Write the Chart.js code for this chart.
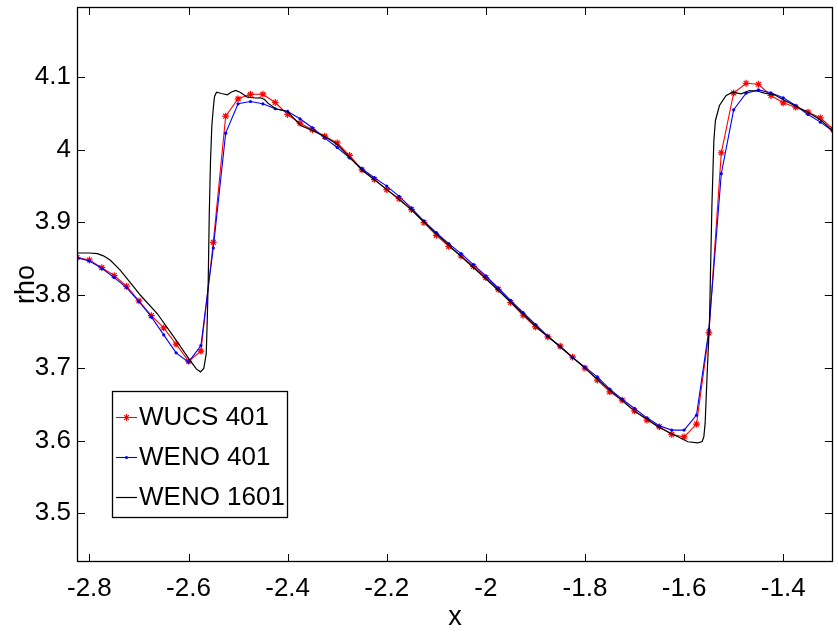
<!DOCTYPE html>
<html>
<head>
<meta charset="utf-8">
<script src="https://cdn.jsdelivr.net/npm/chart.js@4.4.1/dist/chart.umd.min.js"></script>
<style>
html,body{margin:0;padding:0;background:#fff;}
#wrap{width:838px;height:635px;position:relative;}
</style>
</head>
<body>
<div id="wrap"><canvas id="c" width="838" height="635"></canvas></div>
<script>
// ---- data ----
const seriesNames = ['WUCS 401', 'WENO 401', 'WENO 1601'];

const xGrid = [-2.825, -2.8, -2.775, -2.75, -2.725, -2.7, -2.675, -2.65, -2.625, -2.6,
  -2.575, -2.55, -2.525, -2.5, -2.475, -2.45, -2.425, -2.4, -2.375, -2.35,
  -2.325, -2.3, -2.275, -2.25, -2.225, -2.2, -2.175, -2.15, -2.125, -2.1,
  -2.075, -2.05, -2.025, -2.0, -1.975, -1.95, -1.925, -1.9, -1.875, -1.85,
  -1.825, -1.8, -1.775, -1.75, -1.725, -1.7, -1.675, -1.65, -1.625, -1.6,
  -1.575, -1.55, -1.525, -1.5, -1.475, -1.45, -1.425, -1.4, -1.375, -1.35,
  -1.325, -1.3];

const wucs401 = [3.8515, 3.8482, 3.8377, 3.8268, 3.8121, 3.7919, 3.7718, 3.7548, 3.7324, 3.7091,
  3.7228, 3.8725, 4.0459, 4.0698, 4.0761, 4.0761, 4.0647, 4.0482, 4.0363, 4.0272,
  4.0184, 4.0091, 3.9919, 3.9720, 3.9590, 3.9448, 3.9325, 3.9174, 3.8995, 3.8821,
  3.8670, 3.8537, 3.8395, 3.8240, 3.8079, 3.7897, 3.7722, 3.7562, 3.7425, 3.7297,
  3.7146, 3.6995, 3.6830, 3.6669, 3.6555, 3.6408, 3.6281, 3.6189, 3.6084, 3.6051,
  3.6226, 3.7479, 3.9956, 4.0778, 4.0912, 4.0898, 4.0743, 4.0643, 4.0583, 4.0514,
  4.0437, 4.0286];

const weno401 = [3.8515, 3.8468, 3.8368, 3.8240, 3.8103, 3.7911, 3.7699, 3.7452, 3.7205, 3.7077,
  3.7306, 3.8647, 4.0226, 4.0629, 4.0661, 4.0629, 4.0561, 4.0524, 4.0423, 4.0300,
  4.0157, 4.0029, 3.9885, 3.9737, 3.9613, 3.9498, 3.9356, 3.9196, 3.9017, 3.8858,
  3.8707, 3.8570, 3.8419, 3.8262, 3.8097, 3.7928, 3.7760, 3.7595, 3.7434, 3.7287,
  3.7139, 3.7009, 3.6875, 3.6707, 3.6569, 3.6441, 3.6312, 3.6203, 3.6143, 3.6143,
  3.6349, 3.7526, 3.9668, 4.0547, 4.0775, 4.0821, 4.0780, 4.0712, 4.0606, 4.0482,
  4.0377, 4.0253];

const weno1601X = [-2.825, -2.800, -2.7838, -2.7717, -2.7576, -2.7374, -2.7105, -2.6970, -2.6632, -2.6297,
  -2.5974, -2.5838, -2.5758, -2.5691, -2.5642, -2.5622, -2.5602, -2.5582, -2.5556, -2.5529,
  -2.5501, -2.5475, -2.5434, -2.5333, -2.5218, -2.5131, -2.5050, -2.4950, -2.4814, -2.4646,
  -2.4545, -2.4465, -2.4398, -2.4242, -2.4006, -2.3737, -2.3469, -2.3252, -2.2996, -2.2747,
  -2.2491, -2.2000, -2.1501, -2.0990, -2.0505, -2.0000, -1.9495, -1.8996, -1.8499, -1.8000,
  -1.7501, -1.7239, -1.7004, -1.6747, -1.6531, -1.6196, -1.5925, -1.5723, -1.5636, -1.5602,
  -1.5576, -1.5535, -1.5489, -1.5440, -1.5400, -1.5368, -1.5287, -1.5152, -1.5017, -1.4849,
  -1.4681, -1.4511, -1.4378, -1.4176, -1.3974, -1.3772, -1.3501, -1.3231, -1.3000];

const weno1601Y = [3.8578, 3.8578, 3.8570, 3.8539, 3.8478, 3.8340, 3.8111, 3.7997, 3.7746, 3.7425,
  3.7105, 3.6981, 3.6944, 3.6991, 3.7197, 3.7654, 3.8203, 3.9082, 3.9851, 4.0331,
  4.0565, 4.0730, 4.0789, 4.0771, 4.0753, 4.0791, 4.0812, 4.0784, 4.0720, 4.0709,
  4.0712, 4.0688, 4.0638, 4.0561, 4.0524, 4.0331, 4.0253, 4.0180, 4.0070, 3.9892,
  3.9713, 3.9453, 3.9171, 3.8835, 3.8533, 3.8224, 3.7901, 3.7571, 3.7290, 3.6995,
  3.6693, 3.6542, 3.6404, 3.6295, 3.6189, 3.6075, 3.5983, 3.5969, 3.5986, 3.6051,
  3.6235, 3.6922, 3.7609, 3.9210, 4.0125, 4.0400, 4.0606, 4.0743, 4.0789, 4.0767,
  4.0812, 4.0802, 4.0775, 4.0753, 4.0675, 4.0606, 4.0514, 4.0400, 4.0253];

const xTickValues = [-2.8, -2.6, -2.4, -2.2, -2, -1.8, -1.6, -1.4];
const xTickLabels = ['-2.8', '-2.6', '-2.4', '-2.2', '-2', '-1.8', '-1.6', '-1.4'];
const yTickValues = [3.5, 3.6, 3.7, 3.8, 3.9, 4, 4.1];
const yTickLabels = ['3.5', '3.6', '3.7', '3.8', '3.9', '4', '4.1'];
const xRange = [-2.825, -1.3];
const yRange = [3.433, 4.196];
const axisTitles = ['x', 'rho'];

// ---- rendering ----
const FONT = '"Liberation Sans", Arial, Helvetica, sans-serif';
Chart.defaults.color = '#000';
Chart.defaults.font.family = FONT;

const matlabBox = {
  id: 'matlabBox',
  afterDatasetsDraw(chart, args, opts) {
    const {ctx, chartArea: a, scales} = chart;
    const L = opts.tickLength;
    ctx.save();
    ctx.strokeStyle = '#000';
    ctx.lineWidth = 1;
    ctx.beginPath();
    scales.x.ticks.forEach(t => {
      const p = Math.round(scales.x.getPixelForValue(t.value)) + 0.5;
      ctx.moveTo(p, a.bottom); ctx.lineTo(p, a.bottom - L);
      ctx.moveTo(p, a.top); ctx.lineTo(p, a.top + L);
    });
    scales.y.ticks.forEach(t => {
      const p = Math.round(scales.y.getPixelForValue(t.value)) + 0.5;
      ctx.moveTo(a.left, p); ctx.lineTo(a.left + L, p);
      ctx.moveTo(a.right, p); ctx.lineTo(a.right - L, p);
    });
    ctx.stroke();
    ctx.lineWidth = 1.3;
    ctx.strokeRect(Math.round(a.left) + 0.5, Math.round(a.top) + 0.5,
      Math.round(a.right - a.left) - 1, Math.round(a.bottom - a.top) - 1);
    ctx.restore();
  },
  afterDraw(chart, args, opts) {
    const {ctx} = chart;
    const lg = opts.legend;
    ctx.save();
    ctx.fillStyle = '#fff';
    ctx.fillRect(lg.left, lg.top, lg.width, lg.height);
    ctx.strokeStyle = '#000';
    ctx.lineWidth = 1.3;
    ctx.strokeRect(lg.left + 0.5, lg.top + 0.5, lg.width, lg.height);
    chart.data.datasets.forEach((ds, i) => {
      const y = lg.rows[i];
      ctx.strokeStyle = ds.borderColor;
      ctx.lineWidth = ds.borderWidth;
      ctx.beginPath();
      ctx.moveTo(lg.sampleX0, y + 0.5);
      ctx.lineTo(lg.sampleX1, y + 0.5);
      ctx.stroke();
      if (ds.pointRadius > 0) {
        ctx.fillStyle = ds.pointBackgroundColor;
        ctx.strokeStyle = ds.pointBorderColor;
        ctx.lineWidth = ds.pointBorderWidth || 1;
        Chart.helpers.drawPoint(ctx, {pointStyle: ds.pointStyle, radius: ds.pointRadius, rotation: 0, borderWidth: ds.pointBorderWidth}, (lg.sampleX0 + lg.sampleX1) / 2, y + 0.5);
      }
      ctx.fillStyle = '#000';
      ctx.font = lg.fontSize + 'px ' + FONT;
      ctx.textBaseline = 'middle';
      ctx.textAlign = 'left';
      ctx.fillText(ds.label, lg.textX, y + 1);
    });
    ctx.restore();
  }
};

function fixX(scale) { scale.height = 73; scale.paddingLeft = 0; scale.paddingRight = 0; scale.paddingTop = 0; scale.paddingBottom = 0; }
function fixY(scale) { scale.width = 77; scale.paddingLeft = 0; scale.paddingRight = 0; scale.paddingTop = 0; scale.paddingBottom = 0; }

new Chart(document.getElementById('c'), {
  type: 'line',
  data: {
    datasets: [
      {
        label: seriesNames[0],
        data: xGrid.map((x, i) => ({x: x, y: wucs401[i]})),
        borderColor: '#ff0000', backgroundColor: '#ff0000',
        pointBackgroundColor: '#ff0000', pointBorderColor: '#ff0000',
        borderWidth: 1.1, pointStyle: 'star', pointRadius: 3.4, pointBorderWidth: 1.2,
        tension: 0, order: 3
      },
      {
        label: seriesNames[1],
        data: xGrid.map((x, i) => ({x: x, y: weno401[i]})),
        borderColor: '#0000ff', backgroundColor: '#0000ff',
        pointBackgroundColor: '#0000ff', pointBorderColor: '#0000ff',
        borderWidth: 1.1, pointStyle: 'circle', pointRadius: 1.6, pointBorderWidth: 0,
        tension: 0, order: 2
      },
      {
        label: seriesNames[2],
        data: weno1601X.map((x, i) => ({x: x, y: weno1601Y[i]})),
        borderColor: '#000000', backgroundColor: '#000000',
        borderWidth: 1.2, pointRadius: 0,
        tension: 0, order: 1
      }
    ]
  },
  options: {
    responsive: false,
    animation: false,
    devicePixelRatio: 1,
    layout: {padding: {top: 7, right: 5, left: 0, bottom: 0}},
    plugins: {
      legend: {display: false},
      tooltip: {enabled: false},
      matlabBox: {
        tickLength: 8,
        legend: {left: 112, top: 391, width: 175, height: 126, rows: [417, 457, 497],
                 sampleX0: 116, sampleX1: 137, textX: 139, fontSize: 26}
      }
    },
    scales: {
      x: {
        type: 'linear', position: 'bottom',
        min: xRange[0], max: xRange[1],
        grid: {display: false, drawTicks: false},
        border: {display: false},
        afterBuildTicks: s => { s.ticks = xTickValues.map(v => ({value: v})); },
        ticks: {font: {size: 26}, padding: 11, maxRotation: 0, autoSkip: false,
                callback: (v, i) => xTickLabels[i]},
        title: {display: true, text: axisTitles[0], font: {size: 27}, padding: {top: 0, bottom: 1}},
        afterFit: fixX
      },
      y: {
        type: 'linear', position: 'left',
        min: yRange[0], max: yRange[1],
        grid: {display: false, drawTicks: false},
        border: {display: false},
        afterBuildTicks: s => { s.ticks = yTickValues.map(v => ({value: v})); },
        ticks: {font: {size: 26}, padding: 6, autoSkip: false,
                callback: (v, i) => yTickLabels[i]},
        title: {display: true, text: axisTitles[1], font: {size: 27}, padding: {top: 10, bottom: 0}},
        afterFit: fixY
      }
    }
  },
  plugins: [matlabBox]
});
</script>
</body>
</html>
